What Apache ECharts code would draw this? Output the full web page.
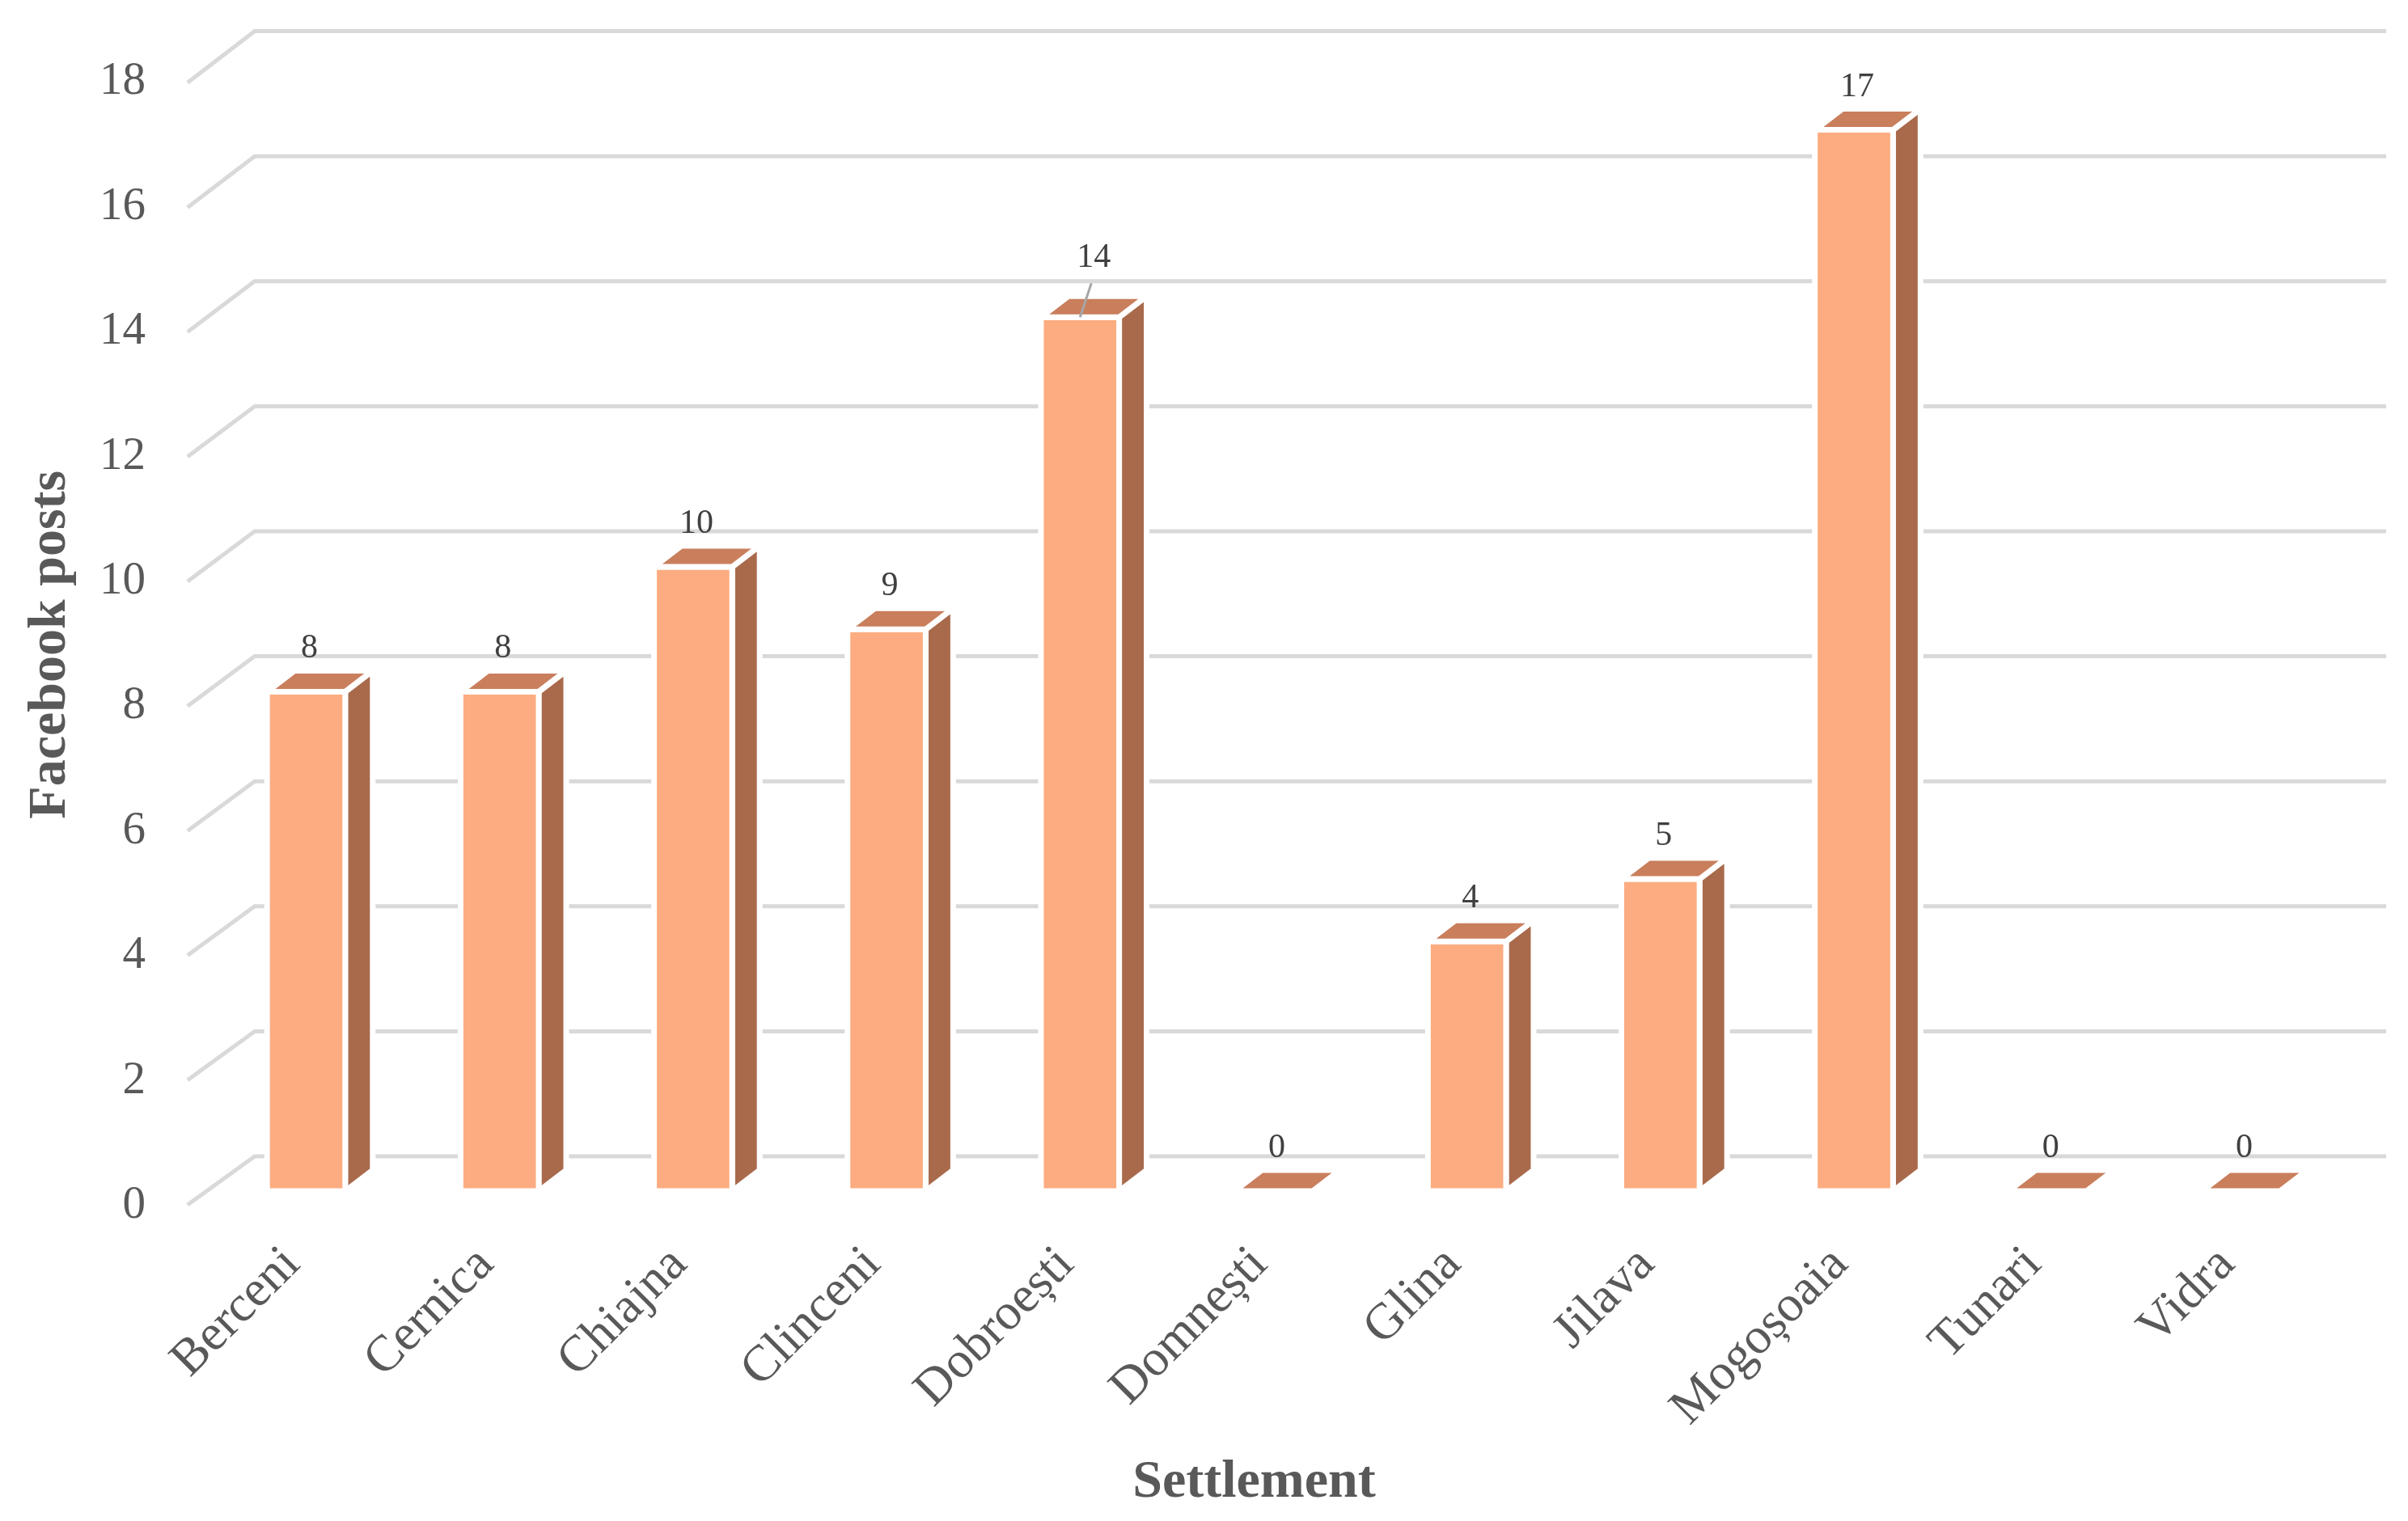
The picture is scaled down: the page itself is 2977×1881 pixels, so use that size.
<!DOCTYPE html>
<html><head><meta charset="utf-8">
<script src="https://cdn.jsdelivr.net/npm/echarts@6/dist/echarts.min.js"></script>
<style>html,body{margin:0;padding:0;background:#fff}#c{width:2977px;height:1881px}</style>
</head><body><div id="c"></div>
<script>
// ---- data ----
const categories = ['Berceni','Cernica','Chiajna','Clinceni','Dobroești','Domnești','Glina','Jilava','Mogoșoaia','Tunari','Vidra'];
const posts = [8, 8, 10, 9, 14, 0, 4, 5, 17, 0, 0];
const yTicks = [0, 2, 4, 6, 8, 10, 12, 14, 16, 18];
const yTitle = 'Facebook posts';
const xTitle = 'Settlement';

// ---- style ----
const FONT = "'Liberation Serif','Times New Roman',serif";
const FRONT = '#FCAC80', TOP = '#C97E5C', SIDE = '#A96A4C';
const GRID_COLOR = '#D9D9D9';
const DEPTH = [34, -26];          // bar depth offset
const labelMove = {4: [13, -20]}; // moved data label (with leader line)

const chart = echarts.init(document.getElementById('c'), null, {renderer: 'canvas'});

function renderGridLine(params, api) {
  const v = api.value(1);
  const p = api.coord([0, v]);
  const cs = params.coordSys;
  const yF = p[1];
  const pts = [
    [cs.x - 27, yF + 17 + 0.1 * v],
    [cs.x + 56, yF - 43 - 0.1 * v],
    [cs.x + cs.width + 60, yF - 43 - 0.1 * v]
  ];
  return {type: 'polyline', shape: {points: pts}, silent: true,
    style: {stroke: GRID_COLOR, lineWidth: 5, fill: null}};
}

function renderBar(params, api) {
  const i = api.value(0), v = api.value(1);
  const base = api.coord([i, 0]);
  const top = api.coord([i, v]);
  const bw = api.size([1, 0])[0] * 0.404;
  const xl = base[0] - bw / 2, xr = base[0] + bw / 2;
  const dx = DEPTH[0], dy = DEPTH[1];
  const st = {stroke: '#fff', lineWidth: 7, lineJoin: 'miter'};
  const ch = [];
  if (v > 0) {
    ch.push({type: 'polygon', shape: {points: [[xr, base[1]], [xr, top[1]], [xr + dx, top[1] + dy], [xr + dx, base[1] + dy]]},
      style: Object.assign({fill: SIDE}, st)});
    ch.push({type: 'rect', shape: {x: xl, y: top[1], width: bw, height: base[1] - top[1]},
      style: Object.assign({fill: FRONT}, st)});
  }
  ch.push({type: 'polygon', shape: {points: [[xl, top[1]], [xr, top[1]], [xr + dx, top[1] + dy], [xl + dx, top[1] + dy]]},
    style: Object.assign({fill: TOP}, st)});
  return {type: 'group', children: ch};
}

function renderLabel(params, api) {
  const i = api.value(0), v = api.value(1);
  const top = api.coord([i, v]);
  const mv = labelMove[i] || [0, 0];
  const x = top[0] + 4 + mv[0], y = top[1] - 53 + mv[1];
  const ch = [{type: 'text', style: {text: String(v), x: x, y: y, align: 'center', verticalAlign: 'middle',
    font: '42px ' + FONT, fill: '#404040'}}];
  if (labelMove[i]) {
    ch.push({type: 'line', shape: {x1: x - 3, y1: y + 31, x2: top[0], y2: top[1]},
      style: {stroke: '#A6A6A6', lineWidth: 3}});
  }
  return {type: 'group', children: ch};
}

const option = {
  animation: false,
  backgroundColor: '#fff',
  grid: {left: 258.9, right: 87, top: 83.4, bottom: 408, containLabel: false},
  xAxis: {
    type: 'category', data: categories,
    axisLine: {show: false}, axisTick: {show: false}, splitLine: {show: false},
    axisLabel: {interval: 0, rotate: 45, margin: 64, padding: [0, 24, 0, 0],
      fontFamily: FONT, fontSize: 63, color: '#595959'},
    name: xTitle, nameLocation: 'middle', nameGap: 328,
    nameTextStyle: {fontFamily: FONT, fontSize: 66, fontWeight: 'bold', color: '#595959', padding: [0, 48, 0, 0]}
  },
  yAxis: {
    type: 'value', min: 0, max: 18, interval: 2,
    axisLine: {show: false}, axisTick: {show: false}, splitLine: {show: false},
    axisLabel: {margin: 79, fontFamily: FONT, fontSize: 57, color: '#595959', verticalAlign: 'top', lineHeight: 36},
    name: yTitle, nameLocation: 'middle', nameGap: 163, nameRotate: 90,
    nameTextStyle: {fontFamily: FONT, fontSize: 66, fontWeight: 'bold', color: '#595959', padding: [0, 38, 0, 0]}
  },
  series: [
    {type: 'custom', renderItem: renderGridLine, data: yTicks.map(v => [0, v]), encode: {x: 0, y: 1}, silent: true, z: 1},
    {type: 'custom', renderItem: renderBar, data: posts.map((v, i) => [i, v]), encode: {x: 0, y: 1}, z: 2},
    {type: 'custom', renderItem: renderLabel, data: posts.map((v, i) => [i, v]), encode: {x: 0, y: 1}, z: 3}
  ]
};
chart.setOption(option);
</script>
</body></html>
